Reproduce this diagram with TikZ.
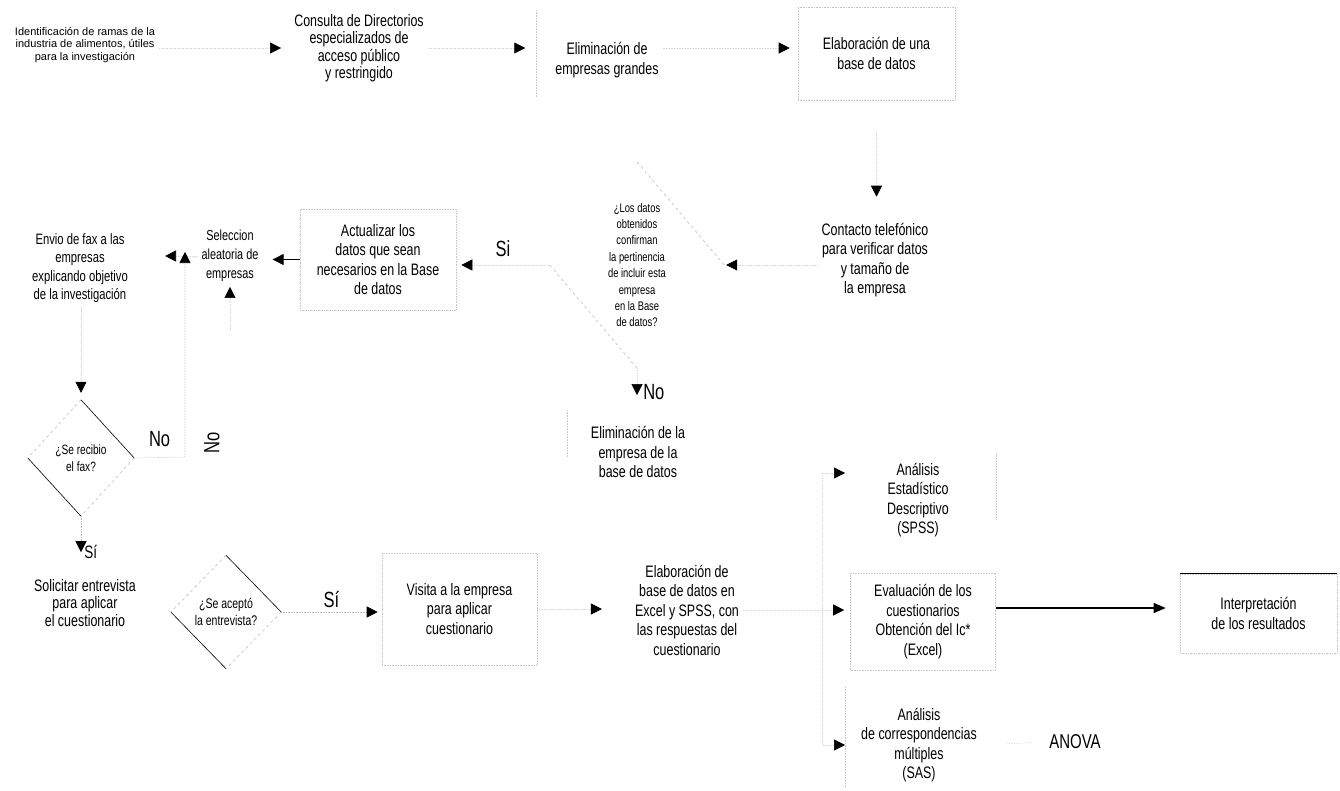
\documentclass[tikz,border=0pt]{standalone}
\usepackage{fontspec}
\setmainfont{Liberation Sans}[FakeStretch=0.75]
\newfontfamily\plainfont{Liberation Sans}
\usetikzlibrary{arrows.meta,shapes.geometric}
\begin{document}
\begin{tikzpicture}[x=1pt,y=-1pt,
  txt/.style={align=center, inner sep=4pt, font=\fontsize{16.6}{19.5}\selectfont},
  tight/.style={txt, font=\fontsize{16.6}{17.5}\selectfont},
  ask/.style={shape=diamond, align=center, inner sep=0pt},
  lbl/.style={inner sep=0pt, font=\fontsize{22}{22}\selectfont},
  boxline/.style={draw=gray!45, densely dotted, line width=0.6pt},
  flow/.style={draw=gray!30, densely dotted, line width=0.6pt, shorten >=3pt,
    -{Triangle[length=11pt,width=11pt,color=black]}},
  rim/.style={draw=black, line width=0.6pt},
  rimfaint/.style={draw=gray!50, dashed, line width=0.6pt}]
  \useasboundingbox (0,0) rectangle (1340,790);

  % first row
  \node[align=center, inner sep=4pt, font=\plainfont\fontsize{11}{12.5}\selectfont] (identif) at (85,45)
    {Identificación de ramas de la\\industria de alimentos, útiles\\para la investigación};
  \node[tight] (consulta) at (359,48) {Consulta de Directorios\\especializados de\\acceso público\\y restringido};
  \node[txt] (elimgr) at (607,60) {Eliminación de\\empresas grandes};
  \node[txt, boxline, minimum width=157, minimum height=93] (basedat) at (876.5,53.5) {Elaboración de una\\base de datos};

  % second row
  \node[txt] (contacto) at (875,260) {Contacto telefónico\\para verificar datos\\y tamaño de\\la empresa};
  \node[ask, minimum width=174, minimum height=206, shape aspect=0.85, font=\fontsize{12.5}{16.4}\selectfont] (confirma) at (637,265)
    {¿Los datos\\obtenidos\\confirman\\la pertinencia\\de incluir esta\\empresa\\en la Base\\de datos?};
  \node[txt, boxline, minimum width=156, minimum height=101] (actualiza) at (378,259.5) {Actualizar los\\datos que sean\\necesarios en la Base\\de datos};
  \node[txt, font=\fontsize{14.5}{19}\selectfont] (seleccion) at (230,256) {Seleccion\\aleatoria de\\empresas};
  \node[txt, font=\fontsize{15}{18.3}\selectfont] (fax) at (80,268) {Envio de fax a las\\empresas\\explicando objetivo\\de la investigación};
  \node[txt] (elimemp) at (638,452) {Eliminación de la\\empresa de la\\base de datos};

  % decisions about fax and interview
  \node[ask, minimum width=106, minimum height=116, shape aspect=0.92, font=\fontsize{13.5}{17}\selectfont] (recibio) at (81,458) {¿Se recibio\\el fax?};
  \node[tight] (solicita) at (85,603) {Solicitar entrevista\\para aplicar\\el cuestionario};
  \node[ask, minimum width=110, minimum height=113, shape aspect=0.97, font=\fontsize{14}{17.5}\selectfont] (acepto) at (226,612) {¿Se aceptó\\la entrevista?};
  \node[txt, boxline, minimum width=155, minimum height=112] (visita) at (459.5,609) {Visita a la empresa\\para aplicar\\cuestionario};
  \node[txt] (elabora) at (687,610) {Elaboración de\\base de datos en\\Excel y SPSS, con\\las respuestas del\\cuestionario};

  % analysis
  \node[txt] (descriptivo) at (918,500) {Análisis\\Estadístico\\Descriptivo\\(SPSS)};
  \node[txt, boxline, minimum width=145, minimum height=97] (evalua) at (923,621.5) {Evaluación de los\\cuestionarios\\Obtención del Ic*\\(Excel)};
  \node[txt, boxline, minimum width=157, minimum height=79] (interpreta) at (1258.5,613.5) {Interpretación\\de los resultados};
  \node[txt] (correspond) at (919,745) {Análisis\\de correspondencias\\múltiples\\(SAS)};
  \node[inner sep=4pt, font=\fontsize{20}{20}\selectfont] (anova) at (1075,742) {ANOVA};
  \node[lbl, rotate=90] (norot) at (212,443) {No};

  % diamond sides
  \draw[rimfaint] (confirma.north) -- (confirma.east);
  \draw[rimfaint] (confirma.west) -- (confirma.south);
  \draw[rim] (recibio.north) -- (recibio.east);
  \draw[rim] (recibio.west) -- (recibio.south);
  \draw[rimfaint] (recibio.north) -- (recibio.west);
  \draw[rimfaint] (recibio.east) -- (recibio.south);
  \draw[rim] (acepto.north) -- (acepto.east);
  \draw[rim] (acepto.west) -- (acepto.south);
  \draw[rimfaint] (acepto.north) -- (acepto.west);
  \draw[rimfaint] (acepto.east) -- (acepto.south);

  % leftovers of frames
  \draw[boxline] (536,10) -- (536,97);
  \draw[boxline] (996,453) -- (996,520);
  \draw[boxline] (845,687) -- (845,787);
  \draw[boxline] (567,410) -- (567,458);
  \draw[line width=1.2pt] (interpreta.north west) -- (interpreta.north east);

  \coordinate (nocorner) at (185,457);
  \coordinate (loopend) at (185,252);
  \coordinate (selin) at (230,330);
  \coordinate (split) at (822,610);

  % connectors
  \draw[flow, shorten >=9pt] (consulta.west -| identif.east) -- (consulta.west);
  \draw[flow, shorten >=26pt] (consulta.east) -- (consulta.east -| elimgr.west);
  \draw[flow, shorten >=8pt] (elimgr.east |- consulta.east) -- (basedat.west |- consulta.east);
  \draw[flow, shorten <=30pt, shorten >=22pt] (basedat.south) -- (basedat.south |- contacto.north);
  \draw[flow, shorten >=2pt] (contacto.west |- confirma.east) -- (confirma.east);
  \draw[flow, shorten >=5pt] (confirma.west) -- node[lbl, above=8pt] (sid) {Si} (confirma.west -| actualiza.east);
  \draw[flow, shorten >=27pt] (confirma.south) -- node[lbl, pos=0.45, right=6pt] (nodel) {No} (confirma.south |- elimemp.north);
  \draw[line width=0.8pt, -{Triangle[length=11pt,width=11pt]}, shorten >=10pt] (actualiza.west) -- (actualiza.west -| seleccion.east);
  \draw[flow, shorten >=33pt] (seleccion.west) -- (seleccion.west -| fax.east);
  \draw[flow, shorten >=1pt] (selin) -- (seleccion.south);
  \draw[flow, shorten >=7pt] (recibio.north |- fax.south) -- (recibio.north);
  \draw[flow, draw=gray!50, shorten >=0pt] (recibio.east) -- node[lbl, above=10pt] (nofax) {No} (nocorner) -- (loopend);
  \draw[flow, draw=gray!50, shorten >=23pt] (recibio.south) -- node[lbl, pos=0.6, right=3pt, font=\fontsize{18}{18}\selectfont] (sifax) {Sí} (recibio.south |- solicita.north);
  \draw[flow, draw=gray!50, shorten >=4pt] (acepto.east) -- node[lbl, above=4pt] (siacep) {Sí} (acepto.east -| visita.west);
  \draw[flow, shorten >=29pt] (visita.east) -- (visita.east -| elabora.west);
  \draw[flow, shorten >=6pt] (elabora.east) -- (elabora.east -| evalua.west);
  \draw[flow, shorten >=38pt] (split) |- ([yshift=27pt]descriptivo.west);
  \draw[flow, shorten >=12pt] (split) |- (correspond.west);
  \draw[line width=1.3pt, -{Triangle[length=12pt,width=10pt]}, shorten >=14pt] ([yshift=13.5pt]evalua.east) -- ([yshift=13.5pt]evalua.east -| interpreta.west);
  \draw[boxline, shorten <=25pt, shorten >=12pt] (correspond.east) -- (anova.west);
\end{tikzpicture}
\end{document}
